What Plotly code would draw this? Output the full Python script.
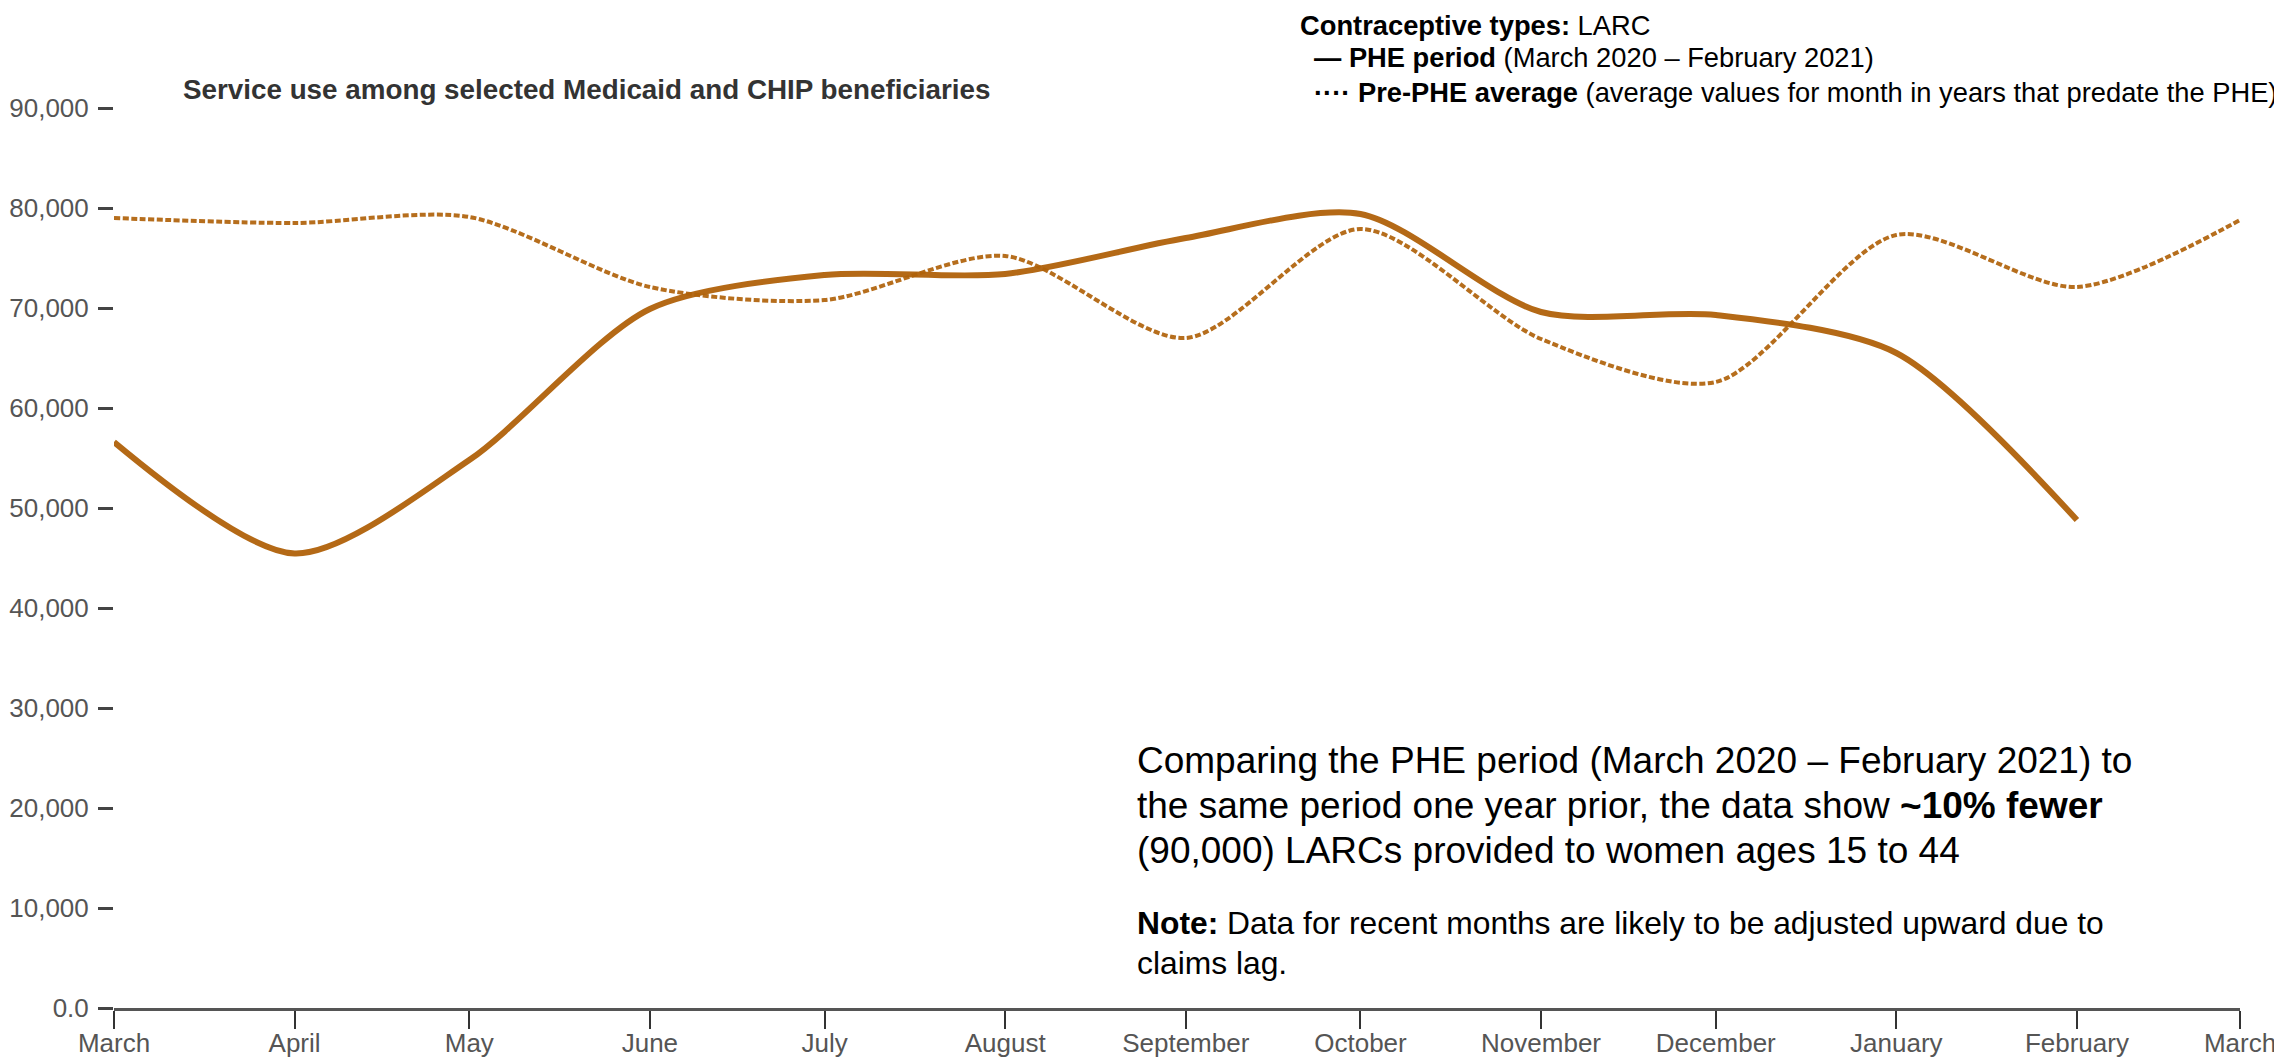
import plotly.graph_objects as go

# ---- data ----
phe_dates = ["2020-03-01", "2020-04-01", "2020-05-01", "2020-06-01", "2020-07-01", "2020-08-01",
             "2020-09-01", "2020-10-01", "2020-11-01", "2020-12-01", "2021-01-01", "2021-02-01"]
phe_values = [56600, 45450, 54800, 69900, 73300, 73400, 77000, 79400, 69600, 69300, 65500, 48800]

pre_dates = ["2020-03-01", "2020-04-01", "2020-05-01", "2020-06-01", "2020-07-01", "2020-08-01",
             "2020-09-01", "2020-10-01", "2020-11-01", "2020-12-01", "2021-01-01", "2021-02-01",
             "2021-03-01"]
pre_values = [79000, 78500, 79100, 72100, 70800, 75200, 67000, 77900, 66900, 62600, 77300, 72100, 78800]

month_ticks = ["2020-03-01", "2020-04-01", "2020-05-01", "2020-06-01", "2020-07-01", "2020-08-01",
               "2020-09-01", "2020-10-01", "2020-11-01", "2020-12-01", "2021-01-01", "2021-02-01",
               "2021-03-01"]
month_labels = ["March", "April", "May", "June", "July", "August", "September", "October",
                "November", "December", "January", "February", "March"]
y_ticks = [0, 10000, 20000, 30000, 40000, 50000, 60000, 70000, 80000, 90000]
y_labels = ["0.0", "10,000", "20,000", "30,000", "40,000", "50,000", "60,000", "70,000", "80,000", "90,000"]

LINE = "#B0620A"
FONT = "Liberation Sans, Arial, sans-serif"

fig = go.Figure()
fig.add_trace(go.Scatter(x=pre_dates, y=pre_values, mode="lines", name="Pre-PHE average", opacity=0.92,
                         line=dict(color=LINE, width=4, dash="6px,2.5px", shape="spline", smoothing=0.8)))
fig.add_trace(go.Scatter(x=phe_dates, y=phe_values, mode="lines", name="PHE period", opacity=0.95,
                         line=dict(color=LINE, width=6, shape="spline", smoothing=0.8)))

OFF = 8  # page body margin
W, H = 2282 - OFF, 1059 - OFF
# plot area in page coordinates: x 114..2240, y 107.7..1007.7
L = 114 - OFF
R = W - (2240 - OFF)
T = 108 - OFF
B = H - (1008 - OFF)
PW, PH = W - L - R, H - T - B


def fy(page_y):
    return (H - B - (page_y - OFF)) / PH


def fx(page_x):
    return (page_x - OFF - 2 - L) / PW


ann = []
ann.append(dict(text="<b>Service use among selected Medicaid and CHIP beneficiaries</b>", x=fx(183), y=fy(90),
                xref="paper", yref="paper", xanchor="left", yanchor="middle", showarrow=False,
                font=dict(family=FONT, size=27.8, color="#333333")))

legend_lines = [
    (1300, 25, "<b>Contraceptive types:</b> LARC"),
    (1314, 58, "<b>— PHE period</b> (March 2020 – February 2021)"),
    (1314, 92, "<b>····</b> <b>Pre-PHE average</b> (average values for month in years that predate the PHE)"),
]
for xf, yf, t in legend_lines:
    ann.append(dict(text=t, x=fx(xf), y=fy(yf), xref="paper", yref="paper", xanchor="left",
                    yanchor="middle", showarrow=False, font=dict(family=FONT, size=27.3, color="#000000")))

main_lines = [
    (760, "Comparing the PHE period (March 2020 – February 2021) to"),
    (805, "the same period one year prior, the data show <b>~10% fewer</b>"),
    (850, "(90,000) LARCs provided to women ages 15 to 44"),
]
for yf, t in main_lines:
    ann.append(dict(text=t, x=fx(1137), y=fy(yf), xref="paper", yref="paper", xanchor="left",
                    yanchor="middle", showarrow=False, font=dict(family=FONT, size=37, color="#000000")))

note_lines = [
    (923, "<b>Note:</b> Data for recent months are likely to be adjusted upward due to"),
    (963, "claims lag."),
]
for yf, t in note_lines:
    ann.append(dict(text=t, x=fx(1137), y=fy(yf), xref="paper", yref="paper", xanchor="left",
                    yanchor="middle", showarrow=False, font=dict(family=FONT, size=31.8, color="#000000")))

fig.update_layout(
    width=W, height=H,
    margin=dict(l=L, r=R, t=T, b=B, autoexpand=False),
    paper_bgcolor="white", plot_bgcolor="white",
    showlegend=False,
    annotations=ann,
    font=dict(family=FONT),
)
fig.update_xaxes(type="date", range=["2020-03-01", "2021-03-01"], tickvals=month_ticks, ticktext=month_labels,
                 showgrid=False, zeroline=False, showline=True, linecolor="#555555", linewidth=3,
                 ticks="outside", ticklen=18, tickwidth=2, tickcolor="#333333",
                 ticklabelstandoff=-8,
                 tickfont=dict(family=FONT, size=26, color="#555555"))
fig.update_yaxes(range=[0, 90000], tickvals=y_ticks, ticktext=y_labels, showgrid=False, zeroline=False,
                 showline=False, ticks="outside", ticklen=15, tickwidth=3, tickcolor="#444444",
                 ticklabelstandoff=4,
                 tickfont=dict(family=FONT, size=26, color="#555555"))

fig.write_html("out.html")
